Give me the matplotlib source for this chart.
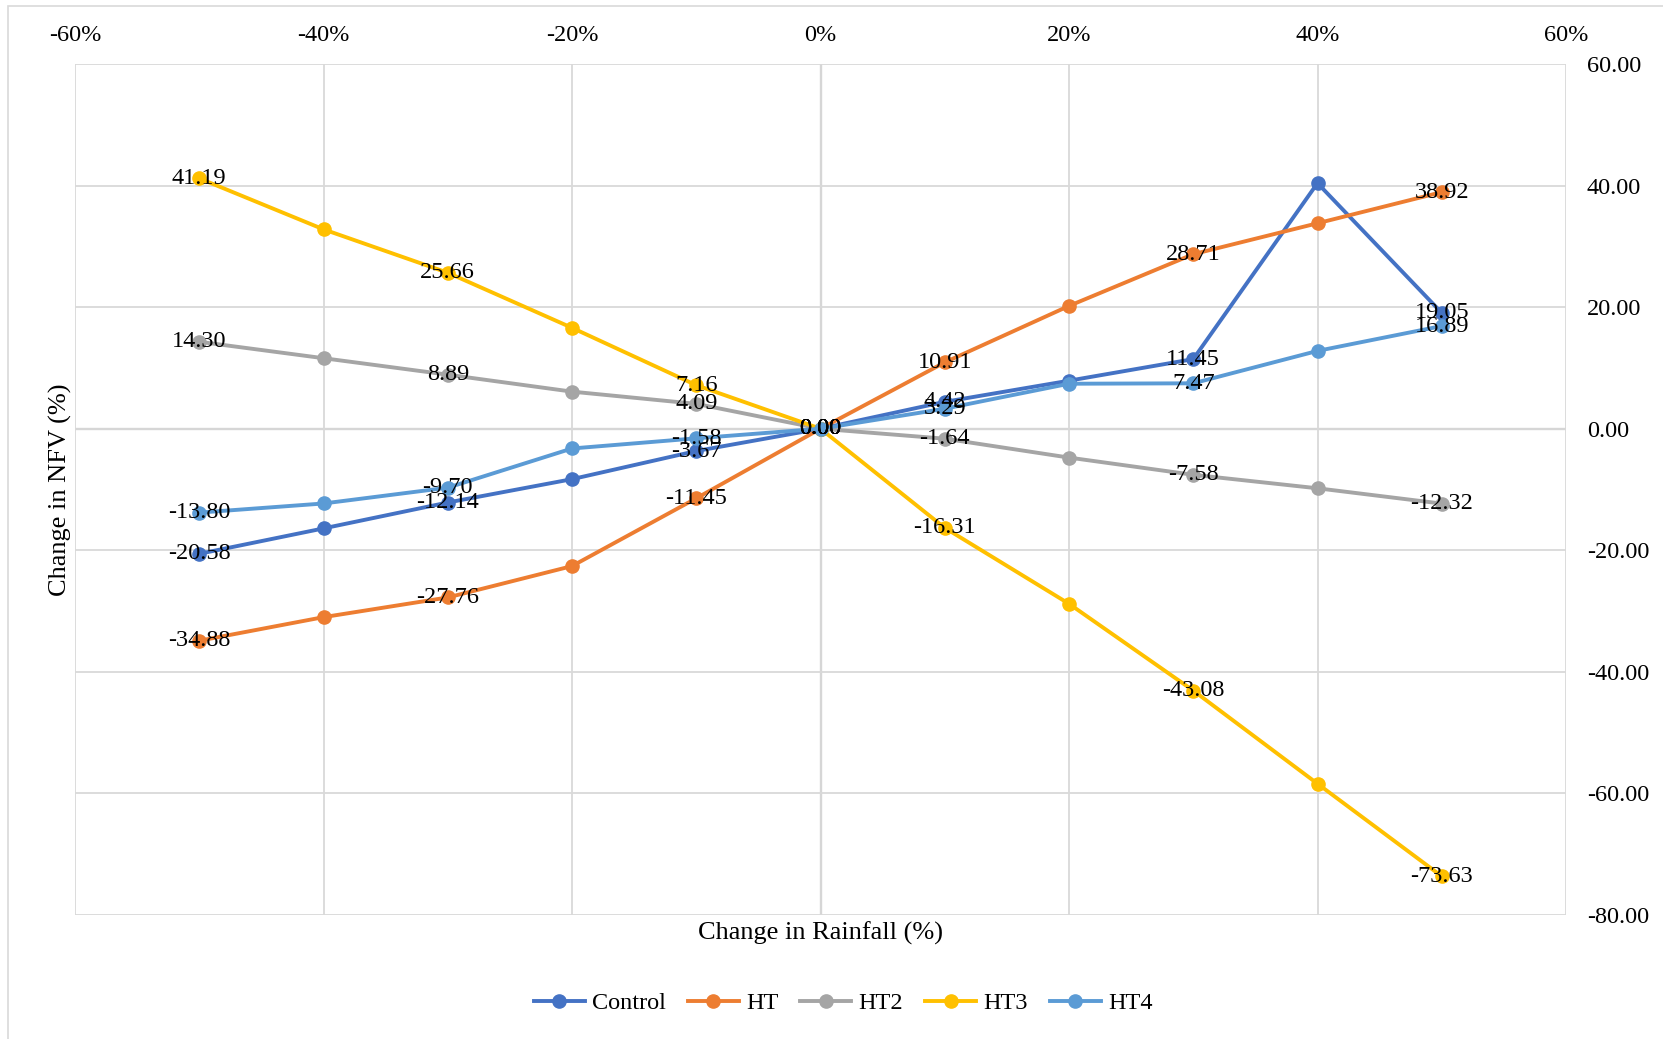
import matplotlib
matplotlib.use("Agg")
import matplotlib.pyplot as plt
from matplotlib.patches import Rectangle
from matplotlib.ticker import FuncFormatter, MultipleLocator

plt.rcParams['font.family'] = ['Liberation Serif', 'DejaVu Serif']

# rainfall change (%) and NFV change (%)
rain_change = [-50, -40, -30, -20, -10, 0, 10, 20, 30, 40, 50]
control = [-20.58, -16.4, -12.14, -8.3, -3.67, 0.00, 4.42, 7.9, 11.45, 40.4, 19.05]
ht = [-34.88, -31.0, -27.76, -22.6, -11.45, 0.00, 10.91, 20.2, 28.71, 33.8, 38.92]
ht2 = [14.30, 11.6, 8.89, 6.1, 4.09, 0.00, -1.64, -4.75, -7.58, -9.8, -12.32]
ht3 = [41.19, 32.8, 25.66, 16.6, 7.16, 0.00, -16.31, -28.8, -43.08, -58.4, -73.63]
ht4 = [-13.80, -12.3, -9.70, -3.25, -1.58, 0.00, 3.29, 7.4, 7.47, 12.8, 16.89]

series_names = ['Control', 'HT', 'HT2', 'HT3', 'HT4']
series_vals = [control, ht, ht2, ht3, ht4]
colors = ['#4472C4', '#ED7D31', '#A5A5A5', '#FFC000', '#5B9BD5']
labelled_idx = [0, 2, 4, 5, 6, 8, 10]  # points that carry a data label

W, H = 1663, 1039
fig = plt.figure(figsize=(W / 100, H / 100), dpi=100)
ax = fig.add_axes([75 / W, 1 - 915 / H, (1566 - 75) / W, (915 - 64) / H])

# chart area border
fig.patches.append(Rectangle((8 / W, -0.05), 1.2, 1.05 - 6 / H, transform=fig.transFigure,
                             fill=False, edgecolor='#D9D9D9', linewidth=1.2))

for name, vals, c in zip(series_names, series_vals, colors):
    ax.plot(rain_change, vals, color=c, linewidth=2.8, marker='o', markersize=9.5,
            label=name, zorder=3, clip_on=False)

for vals in series_vals:
    for i in labelled_idx:
        ax.text(rain_change[i], vals[i], f"{vals[i]:.2f}", ha='center', va='center',
                fontsize=17.5, color='black', zorder=5)

ax.set_xlim(-60, 60)
ax.set_ylim(-80, 60)
ax.xaxis.set_major_locator(MultipleLocator(20))
ax.yaxis.set_major_locator(MultipleLocator(20))
ax.xaxis.set_major_formatter(FuncFormatter(lambda v, p: f"{v:.0f}%"))
ax.yaxis.set_major_formatter(FuncFormatter(lambda v, p: f"{v:.2f}"))
ax.xaxis.tick_top()
ax.yaxis.tick_right()
ax.tick_params(axis='x', length=0, pad=13, labelsize=17.5)
ax.tick_params(axis='y', length=0, pad=15, labelsize=17.5)

for s in ax.spines.values():
    s.set_visible(False)
ax.grid(True, color='#D9D9D9', linewidth=1.3, zorder=0)
ax.axhline(0, color='#BFBFBF', linewidth=1.6, zorder=1)
ax.axvline(0, color='#BFBFBF', linewidth=1.6, zorder=1)

ax.xaxis.set_label_position('bottom')
ax.set_xlabel("Change in Rainfall (%)", fontsize=19, labelpad=5)
ax.yaxis.set_label_position('left')
ax.set_ylabel("Change in NFV (%)", fontsize=19, labelpad=2)

fig.legend(loc='center', bbox_to_anchor=(0.507, 1 - 1003 / H), ncol=5, frameon=False,
           fontsize=17.5, handlelength=2.1, columnspacing=0.9, handletextpad=0.3)

fig.savefig('out.png', dpi=100)
